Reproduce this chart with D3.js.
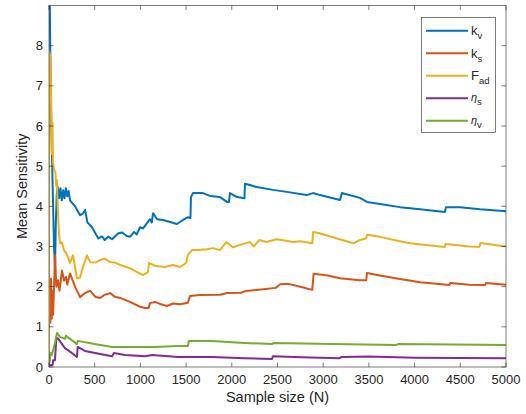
<!DOCTYPE html>
<html>
<head>
<meta charset="utf-8">
<script src="https://cdn.jsdelivr.net/npm/d3@7"></script>
<style>
  html, body { margin: 0; padding: 0; background: #fff; }
  svg { display: block; font-family: "Liberation Sans", Arial, sans-serif; }
  .tick-label { font-size: 13px; fill: #262626; }
  .axis-label { font-size: 14.5px; fill: #262626; }
</style>
</head>
<body>
<svg id="chart" width="526" height="414"></svg>
<script>
// values: [sample size N, mean sensitivity]
const kvData = [[0, 9.8], [8, 9.2], [14, 7.9], [25, 6.0], [40, 4.5], [55, 3.0], [66, 2.45], [75, 3.6], [85, 4.3], [95, 4.48], [110, 4.2], [125, 4.45], [140, 4.15], [155, 4.4], [170, 4.2], [185, 4.45], [200, 4.25], [215, 4.38], [230, 4.15], [285, 4.0], [340, 3.78], [370, 3.82], [395, 3.91], [420, 3.6], [470, 3.48], [540, 3.2], [580, 3.25], [610, 3.16], [650, 3.25], [690, 3.18], [760, 3.33], [800, 3.35], [850, 3.26], [886, 3.24], [930, 3.36], [960, 3.3], [996, 3.48], [1030, 3.45], [1072, 3.58], [1105, 3.68], [1125, 3.6], [1138, 3.83], [1182, 3.68], [1247, 3.66], [1324, 3.61], [1400, 3.56], [1466, 3.66], [1521, 3.73], [1548, 3.71], [1553, 4.23], [1575, 4.33], [1685, 4.33], [1761, 4.26], [1871, 4.23], [1947, 4.11], [1969, 4.11], [1980, 4.33], [2057, 4.23], [2122, 4.21], [2139, 4.2], [2144, 4.56], [2199, 4.53], [2272, 4.48], [2451, 4.41], [2600, 4.36], [2819, 4.28], [2888, 4.33], [2965, 4.28], [3184, 4.16], [3205, 4.33], [3402, 4.21], [3479, 4.11], [3621, 4.06], [3840, 3.98], [4059, 3.93], [4332, 3.86], [4343, 3.98], [4496, 3.98], [4715, 3.93], [5000, 3.88]];

const ksData = [[0, 1.05], [8, 1.9], [15, 1.1], [22, 2.2], [30, 1.2], [38, 1.9], [45, 1.3], [55, 2.0], [66, 2.78], [80, 2.0], [98, 2.16], [115, 1.9], [142, 2.4], [165, 2.15], [186, 2.24], [200, 2.05], [230, 2.33], [285, 2.0], [340, 1.74], [395, 1.84], [450, 1.9], [505, 1.75], [560, 1.72], [610, 1.8], [670, 1.84], [720, 1.75], [780, 1.72], [886, 1.62], [996, 1.5], [1050, 1.47], [1090, 1.47], [1105, 1.59], [1160, 1.62], [1215, 1.57], [1290, 1.52], [1357, 1.58], [1433, 1.56], [1520, 1.6], [1543, 1.77], [1652, 1.79], [1870, 1.8], [1947, 1.84], [2100, 1.85], [2150, 1.89], [2320, 1.93], [2480, 1.97], [2530, 2.06], [2620, 2.07], [2750, 2.0], [2880, 1.92], [2895, 2.32], [3050, 2.28], [3184, 2.21], [3400, 2.16], [3470, 2.16], [3480, 2.34], [3620, 2.28], [3840, 2.19], [4060, 2.11], [4380, 2.04], [4390, 2.09], [4600, 2.05], [4770, 2.04], [4780, 2.09], [5000, 2.05]];

const fadData = [[0, 0.2], [3, 7.85], [15, 7.7], [22, 7.0], [28, 6.0], [33, 5.3], [38, 6.1], [44, 5.1], [55, 4.9], [70, 4.85], [80, 4.5], [88, 4.65], [95, 4.0], [110, 3.3], [120, 3.08], [142, 3.1], [165, 2.9], [186, 2.85], [230, 2.59], [263, 2.78], [306, 2.21], [340, 2.23], [372, 2.49], [415, 2.78], [450, 2.61], [505, 2.6], [560, 2.66], [610, 2.7], [670, 2.61], [720, 2.6], [780, 2.54], [886, 2.46], [963, 2.36], [1028, 2.29], [1083, 2.36], [1094, 2.59], [1160, 2.52], [1266, 2.49], [1357, 2.54], [1433, 2.49], [1500, 2.59], [1520, 2.79], [1565, 2.91], [1620, 2.91], [1730, 2.93], [1795, 2.96], [1870, 2.91], [1940, 3.11], [2010, 2.98], [2120, 3.06], [2199, 3.11], [2240, 3.0], [2300, 3.16], [2380, 3.11], [2490, 3.18], [2580, 3.15], [2670, 3.11], [2750, 3.13], [2880, 3.08], [2890, 3.36], [2960, 3.33], [3150, 3.2], [3330, 3.08], [3400, 3.16], [3470, 3.2], [3480, 3.29], [3620, 3.24], [3840, 3.13], [3950, 3.08], [4330, 2.99], [4340, 3.06], [4600, 3.0], [4710, 2.99], [4720, 3.09], [5000, 3.0]];

const etaSData = [[0, 0.02], [15, 0.05], [40, 0.05], [45, 0.17], [65, 0.17], [80, 0.7], [95, 0.72], [175, 0.47], [250, 0.35], [306, 0.25], [314, 0.5], [394, 0.4], [503, 0.35], [690, 0.27], [710, 0.35], [831, 0.3], [1050, 0.27], [1130, 0.3], [1411, 0.25], [1780, 0.25], [2140, 0.22], [2440, 0.2], [2450, 0.27], [2760, 0.24], [3180, 0.22], [3200, 0.25], [3500, 0.26], [4000, 0.23], [5000, 0.22]];

const etaVData = [[0, 0.05], [8, 0.15], [15, 0.35], [30, 0.3], [45, 0.42], [65, 0.6], [88, 0.85], [120, 0.75], [153, 0.72], [175, 0.7], [185, 0.78], [230, 0.7], [306, 0.57], [314, 0.65], [500, 0.57], [690, 0.5], [1000, 0.5], [1160, 0.5], [1411, 0.52], [1520, 0.52], [1530, 0.65], [1780, 0.65], [2140, 0.6], [2440, 0.57], [2460, 0.6], [3100, 0.57], [3800, 0.55], [3820, 0.57], [5000, 0.55]];

const xTicks = [0, 500, 1000, 1500, 2000, 2500, 3000, 3500, 4000, 4500, 5000];
const yTicks = [0, 1, 2, 3, 4, 5, 6, 7, 8];

// legend: base letter + subscript
const seriesNames = [['k', 'v'], ['k', 's'], ['F', 'ad'], ['\u03B7', 's'], ['\u03B7', 'v']];
const seriesColors = ['#0072BD', '#D95319', '#EDB120', '#7E2F8E', '#77AC30'];
const seriesData = [kvData, ksData, fadData, etaSData, etaVData];

const svg = d3.select('#chart');
const margin = { top: 5.5, right: 20, bottom: 47, left: 49 };
const width = 526, height = 414;

const x = d3.scaleLinear().domain([0, 5000]).range([margin.left, width - margin.right]);
const y = d3.scaleLinear().domain([0, 9]).range([height - margin.bottom, margin.top]);

svg.append('defs').append('clipPath').attr('id', 'plot-clip')
    .append('rect')
    .attr('x', x(0)).attr('y', y(9))
    .attr('width', x(5000) - x(0)).attr('height', y(0) - y(9));

// data lines
const line = d3.line().x(d => x(d[0])).y(d => y(d[1]));
const lines = svg.append('g').attr('clip-path', 'url(#plot-clip)');
seriesData.forEach((data, i) => {
    lines.append('path')
        .datum(data)
        .attr('d', line)
        .attr('fill', 'none')
        .attr('stroke', seriesColors[i])
        .attr('stroke-width', 2)
        .attr('stroke-linejoin', 'round');
});

// box with inward ticks on all four sides
const axisColor = '#262626';
const tickLen = 4.5;
const box = svg.append('g').attr('stroke', axisColor).attr('stroke-width', 0.6).attr('fill', 'none');
box.append('rect')
    .attr('x', x(0)).attr('y', y(9))
    .attr('width', x(5000) - x(0)).attr('height', y(0) - y(9));

xTicks.forEach(t => {
    box.append('line').attr('x1', x(t)).attr('x2', x(t)).attr('y1', y(0)).attr('y2', y(0) - tickLen);
    box.append('line').attr('x1', x(t)).attr('x2', x(t)).attr('y1', y(9)).attr('y2', y(9) + tickLen);
});
yTicks.forEach(t => {
    box.append('line').attr('x1', x(0)).attr('x2', x(0) + tickLen).attr('y1', y(t)).attr('y2', y(t));
    box.append('line').attr('x1', x(5000)).attr('x2', x(5000) - tickLen).attr('y1', y(t)).attr('y2', y(t));
});

svg.append('g').selectAll('text')
    .data(xTicks)
    .join('text')
    .attr('class', 'tick-label')
    .attr('x', d => x(d))
    .attr('y', y(0) + 16.5)
    .attr('text-anchor', 'middle')
    .text(d => d);

svg.append('g').selectAll('text')
    .data(yTicks)
    .join('text')
    .attr('class', 'tick-label')
    .attr('x', x(0) - 6)
    .attr('y', d => y(d) + 4.6)
    .attr('text-anchor', 'end')
    .text(d => d);

svg.append('text')
    .attr('class', 'axis-label')
    .attr('x', (x(0) + x(5000)) / 2)
    .attr('y', 402)
    .attr('text-anchor', 'middle')
    .text('Sample size (N)');

svg.append('text')
    .attr('class', 'axis-label')
    .attr('transform', `translate(27,${(y(0) + y(9)) / 2}) rotate(-90)`)
    .attr('text-anchor', 'middle')
    .text('Mean Sensitivity');

// legend
const legend = svg.append('g');
legend.append('rect')
    .attr('x', 421.5).attr('y', 17.5)
    .attr('width', 74).attr('height', 115)
    .attr('fill', '#fff')
    .attr('stroke', axisColor)
    .attr('stroke-width', 0.6);

seriesNames.forEach(([base, sub], i) => {
    const ly = 30.7 + i * 22.5;
    legend.append('line')
        .attr('x1', 426).attr('x2', 468)
        .attr('y1', ly).attr('y2', ly)
        .attr('stroke', seriesColors[i])
        .attr('stroke-width', 2);
    const isGreek = base === '\u03B7';
    const label = legend.append('text')
        .attr('x', 471)
        .attr('y', ly + (isGreek ? 3 : 4.5))
        .attr('fill', '#262626')
        .attr('font-size', isGreek ? 11 : 13);
    label.append('tspan')
        .attr('font-style', isGreek ? 'italic' : 'normal')
        .text(base);
    label.append('tspan')
        .attr('font-size', 9.5)
        .attr('dy', 4)
        .text(sub);
});
</script>
</body>
</html>
